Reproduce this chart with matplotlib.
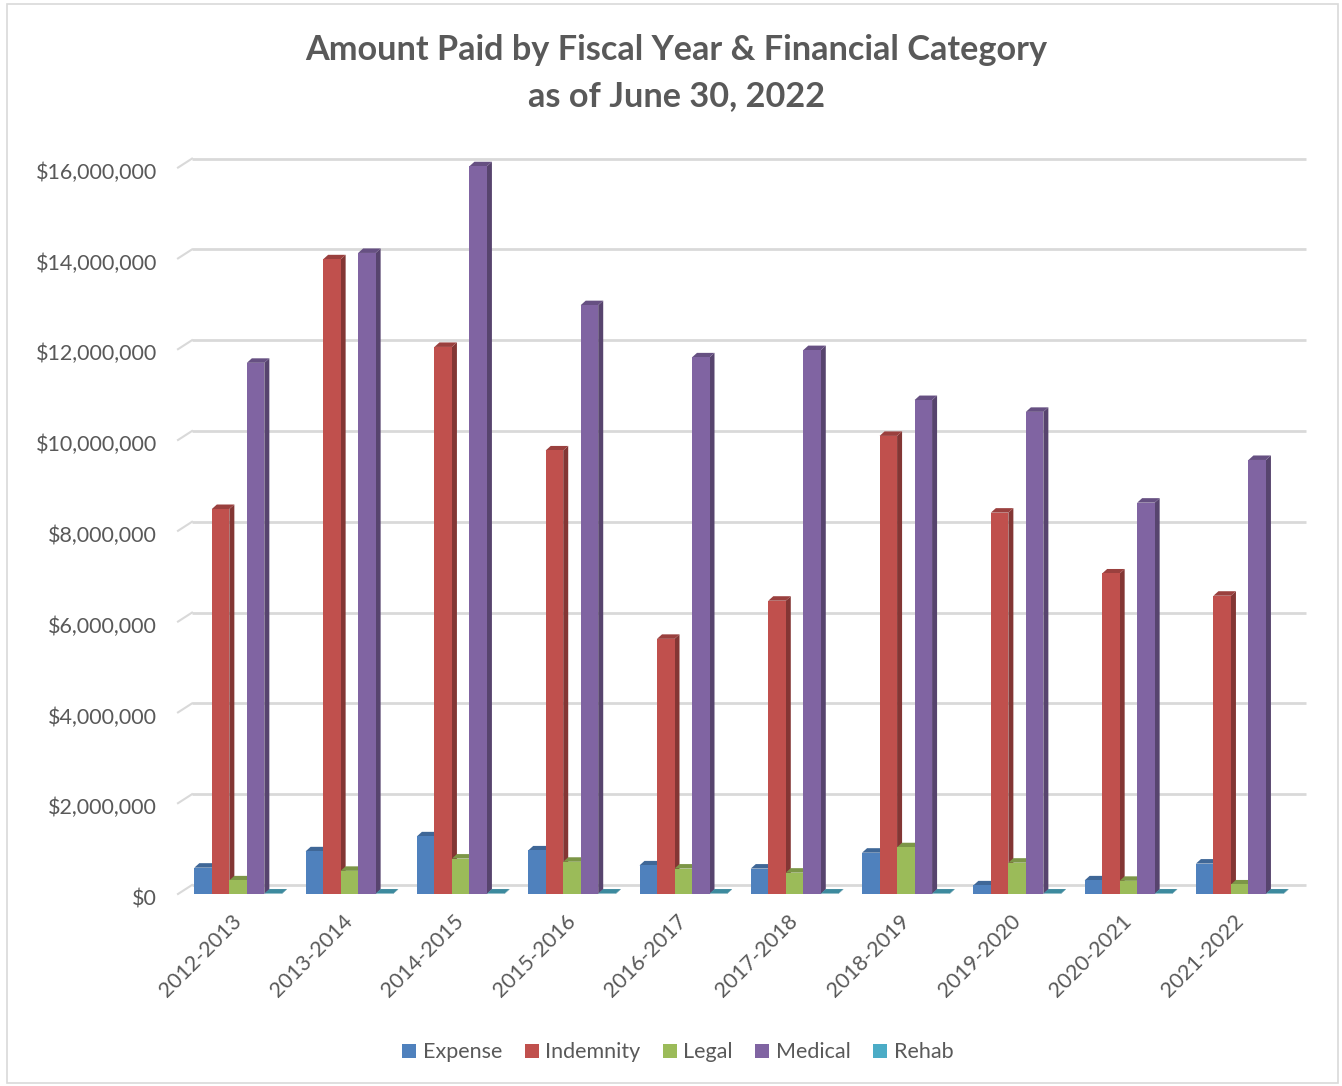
import numpy as np
import matplotlib
matplotlib.use('Agg')
import matplotlib.pyplot as plt
from matplotlib.patches import Polygon, Rectangle
from matplotlib.colors import to_rgb
from matplotlib.transforms import ScaledTranslation

years = ['2012-2013', '2013-2014', '2014-2015', '2015-2016', '2016-2017',
         '2017-2018', '2018-2019', '2019-2020', '2020-2021', '2021-2022']
series = ['Expense', 'Indemnity', 'Legal', 'Medical', 'Rehab']
expense = [0.58, 0.94, 1.27, 0.96, 0.63, 0.56, 0.91, 0.19, 0.30, 0.67]
indemnity = [8.48, 13.98, 12.05, 9.77, 5.62, 6.46, 10.09, 8.40, 7.06, 6.57]
legal = [0.30, 0.51, 0.78, 0.71, 0.56, 0.47, 1.03, 0.69, 0.29, 0.21]
medical = [11.70, 14.12, 16.03, 12.97, 11.82, 11.98, 10.88, 10.62, 8.62, 9.56]
rehab = [0.01, 0.01, 0.01, 0.01, 0.01, 0.01, 0.01, 0.01, 0.01, 0.01]
colors = ['#4F81BD', '#C0504D', '#9BBB59', '#8064A2', '#4BACC6']
yticks = np.arange(0, 16.1, 2)

values = [np.array(v) * 1e6 for v in (expense, indemnity, legal, medical, rehab)]

plt.rcParams['font.family'] = ['Lato', 'DejaVu Sans']
txt = '#595959'

fig = plt.figure(figsize=(13.42, 10.86), dpi=100)
fig.patches.append(Rectangle((0.005, 0.003), 0.992, 0.993, transform=fig.transFigure,
                             fill=False, edgecolor='#d9d9d9', linewidth=1.2))

px_m = 45.4  # pixels per million
ax = fig.add_axes([178 / 1342, (1086 - 894) / 1086, (1292 - 178) / 1342, 16.5 * px_m / 1086])
x0, x1 = -0.54, 9.47
ax.set_xlim(x0, x1)
ax.set_ylim(0, 16.5e6)
unit_x = (1292 - 178) / (x1 - x0)  # pixels per group

def shade(c, k):
    r, g, b = to_rgb(c)
    return (r * k, g * k, b * k)

# back wall gridlines (3d look)
gdx, gdy = 14 / unit_x, 9 / px_m * 1e6
for t in yticks:
    y = t * 1e6
    ax.plot([x0 + gdx, x1 + gdx], [y + gdy, y + gdy], color='#d9d9d9', lw=2,
            zorder=0, clip_on=False, solid_capstyle='butt')
    ax.plot([x0, x0 + gdx], [y, y + gdy], color='#d9d9d9', lw=1.5, zorder=0, clip_on=False)

w = 17.5 / unit_x
dx, dy = 5 / unit_x, 4.5 / px_m * 1e6
z = 2
for i in range(len(years)):
    for j, vals in enumerate(values):
        h = vals[i]
        left = i - 2.5 * w + j * w
        c = colors[j]
        ax.add_patch(Rectangle((left, 0), w, h, facecolor=c, edgecolor='none', zorder=z))
        ax.add_patch(Polygon([(left + w, 0), (left + w + dx, dy), (left + w + dx, h + dy), (left + w, h)],
                             closed=True, facecolor=shade(c, 0.68), edgecolor='none', zorder=z - 0.5,
                             clip_on=False))
        ax.add_patch(Polygon([(left, h), (left + dx, h + dy), (left + w + dx, h + dy), (left + w, h)],
                             closed=True, facecolor=shade(c, 0.8), edgecolor='none', zorder=z - 0.5,
                             clip_on=False))
        z += 1

for s in ax.spines.values():
    s.set_visible(False)
ax.set_yticks(yticks * 1e6)
ax.set_yticklabels(['${:,.0f}'.format(t * 1e6) for t in yticks], fontsize=15.5, color=txt)
ax.tick_params(axis='y', length=0, pad=15)
down = ScaledTranslation(0, -0.03, fig.dpi_scale_trans)
for lab in ax.get_yticklabels():
    lab.set_transform(lab.get_transform() + down)
ax.set_xticks(np.arange(len(years)) - 0.06)
ax.set_xticklabels(years, rotation=45, ha='right', va='top', rotation_mode='anchor',
                   fontsize=15.5, color=txt)
ax.tick_params(axis='x', length=0, pad=12)

fig.text(0.504, 0.969, 'Amount Paid by Fiscal Year & Financial Category\nas of June 30, 2022',
         ha='center', va='top', fontsize=24.7, fontweight='bold', color=txt, linespacing=1.55)

handles = [Rectangle((0, 0), 1, 1, facecolor=c) for c in colors]
fig.legend(handles, series, loc='center', bbox_to_anchor=(0.505, 0.031), ncol=5, frameon=False,
           fontsize=15.5, handlelength=0.65, handleheight=0.65, handletextpad=0.3, columnspacing=1.05,
           labelcolor=txt)

fig.savefig('out.png', dpi=100)
